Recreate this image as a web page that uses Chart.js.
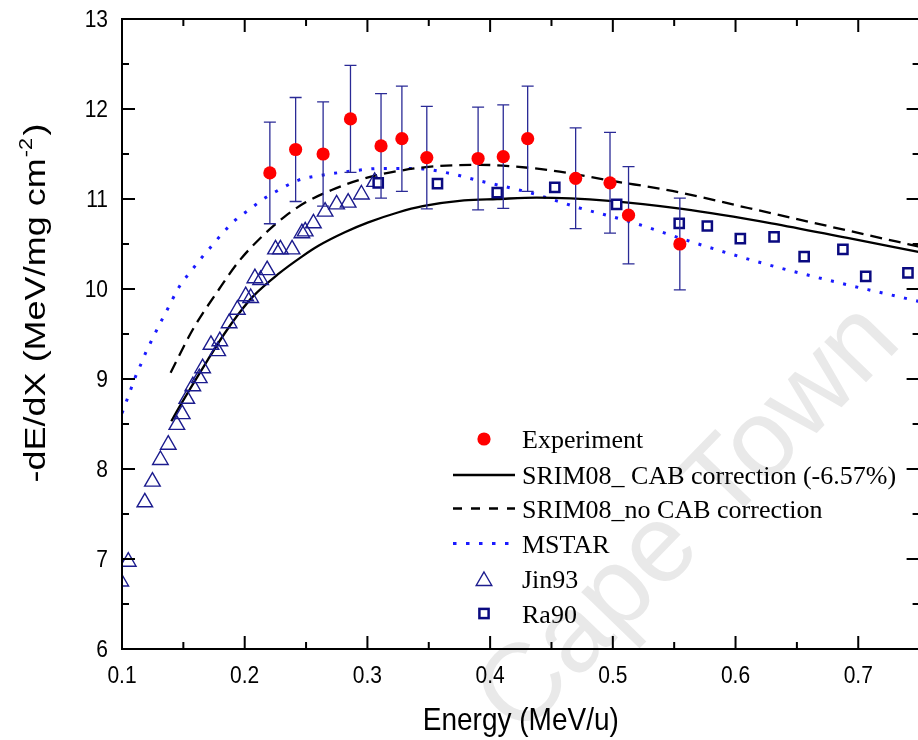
<!DOCTYPE html>
<html>
<head>
<meta charset="utf-8">
<script src="https://cdn.jsdelivr.net/npm/chart.js@4.4.1/dist/chart.umd.min.js"></script>
<style>
  html, body { margin: 0; padding: 0; background: #fff; overflow: hidden; width: 918px; height: 740px; }
  canvas { display: block; }
</style>
</head>
<body>
<canvas id="c" width="930" height="740"></canvas>
<script>
// Axis ticks
const xTicks = [0.1, 0.2, 0.3, 0.4, 0.5, 0.6, 0.7];
const yTicks = [6, 7, 8, 9, 10, 11, 12, 13];

// Experiment: energy (MeV/u), stopping power and its uncertainty
const energyExp = [0.2205, 0.2415, 0.2639, 0.2862, 0.3111, 0.3281, 0.3484, 0.3902, 0.4107, 0.4306, 0.4697, 0.4977, 0.5128, 0.5546];
const dedxExp   = [11.29, 11.55, 11.50, 11.89, 11.59, 11.67, 11.46, 11.45, 11.47, 11.67, 11.23, 11.18, 10.82, 10.50];
const errExp    = [0.565, 0.578, 0.58, 0.595, 0.58, 0.585, 0.57, 0.57, 0.575, 0.585, 0.56, 0.56, 0.54, 0.51];

// SRIM08 with CAB correction
const energyCab = [0.1402, 0.1455, 0.1698, 0.1833, 0.1954, 0.2062, 0.2277, 0.2466, 0.2601, 0.2816, 0.3007, 0.3248, 0.3450, 0.3787, 0.4058, 0.4379, 0.4972, 0.5565, 0.6293, 0.6912, 0.7500];
const dedxCab   = [8.53, 8.66, 9.21, 9.50, 9.73, 9.91, 10.17, 10.36, 10.48, 10.63, 10.74, 10.85, 10.92, 10.985, 11.00, 11.015, 10.98, 10.89, 10.73, 10.567, 10.41];

// SRIM08 without CAB correction
const energyNoCab = [0.1396, 0.1577, 0.1792, 0.1954, 0.2116, 0.2331, 0.2493, 0.2709, 0.2978, 0.3248, 0.3517, 0.3921, 0.4201, 0.4487, 0.4999, 0.5484, 0.6103, 0.6750, 0.7500];
const dedxNoCab   = [9.07, 9.55, 10.00, 10.31, 10.55, 10.81, 10.96, 11.10, 11.23, 11.31, 11.36, 11.38, 11.36, 11.32, 11.20, 11.09, 10.90, 10.70, 10.47];

// MSTAR
const energyMstar = [0.1000, 0.1065, 0.1105, 0.1159, 0.1199, 0.1253, 0.1307, 0.1361, 0.1469, 0.1563, 0.1644, 0.1738, 0.1833, 0.1927, 0.2035, 0.2142, 0.2251, 0.2439, 0.2655, 0.2870, 0.3113, 0.3382, 0.3652, 0.3920, 0.4323, 0.4729, 0.5134, 0.5673, 0.6212, 0.6750, 0.7500];
const dedxMstar   = [8.62, 8.86, 9.01, 9.18, 9.31, 9.46, 9.61, 9.75, 10.03, 10.20, 10.34, 10.49, 10.64, 10.77, 10.88, 10.99, 11.08, 11.21, 11.27, 11.31, 11.34, 11.34, 11.29, 11.20, 11.07, 10.90, 10.75, 10.51, 10.29, 10.10, 9.86];

// Jin93
const energyJin = [0.099, 0.1051, 0.1186, 0.1248, 0.1313, 0.1377, 0.1447, 0.1491, 0.1528, 0.1577, 0.1630, 0.1657, 0.1725, 0.1780, 0.1797, 0.1873, 0.1940, 0.2008, 0.2049, 0.2083, 0.2130, 0.2183, 0.2251, 0.2291, 0.2386, 0.2466, 0.2493, 0.2560, 0.2655, 0.2749, 0.2843, 0.2951, 0.3059];
const dedxJin   = [6.75, 6.97, 7.63, 7.86, 8.10, 8.27, 8.49, 8.61, 8.78, 8.92, 9.01, 9.12, 9.38, 9.31, 9.42, 9.62, 9.77, 9.92, 9.90, 10.12, 10.10, 10.21, 10.44, 10.44, 10.44, 10.62, 10.64, 10.73, 10.86, 10.94, 10.96, 11.05, 11.19];

// Ra90
const energyRa = [0.3088, 0.3571, 0.4058, 0.4527, 0.5031, 0.5541, 0.5770, 0.6039, 0.6314, 0.6559, 0.6875, 0.7061, 0.7405];
const dedxRa   = [11.18, 11.17, 11.07, 11.13, 10.94, 10.73, 10.70, 10.56, 10.58, 10.36, 10.44, 10.14, 10.18];

const legendLabels = ['Experiment', 'SRIM08_ CAB correction (-6.57%)', 'SRIM08_no CAB correction', 'MSTAR', 'Jin93', 'Ra90'];
const xTitle = 'Energy (MeV/u)';
const yTitle = ['-dE/dX (MeV/mg cm', '-2', ')'];

const pts = (xs, ys) => xs.map((x, i) => ({ x: x, y: ys[i] }));

const NAVY = '#1c1c8e';
const SANS = '"Liberation Sans", Arial, Helvetica, sans-serif';
const SERIF = '"Liberation Serif", "Times New Roman", serif';
const STRETCH = 1.13;   // tall, narrow axis lettering

// Faint diagonal watermark behind the plot
const watermark = {
  id: 'watermark',
  beforeDraw(chart) {
    const ctx = chart.ctx;
    ctx.save();
    ctx.translate(690, 520);
    ctx.rotate(-0.80);
    ctx.font = '110px ' + SANS;
    ctx.fillStyle = '#e9e9e9';
    ctx.textAlign = 'center';
    ctx.textBaseline = 'middle';
    ctx.fillText('Cape Town', 0, 0);
    ctx.restore();
  }
};

// Vertical uncertainty bars under the experimental points
const errorBars = {
  id: 'errorBars',
  beforeDatasetDraw(chart, args) {
    if (args.index !== 0) return;
    const { ctx, chartArea: ca } = chart;
    const xs = chart.scales.x, ys = chart.scales.y;
    ctx.save();
    ctx.beginPath();
    ctx.rect(ca.left, ca.top, ca.right - ca.left, ca.bottom - ca.top);
    ctx.clip();
    ctx.strokeStyle = '#2a2a96';
    ctx.lineWidth = 1.3;
    energyExp.forEach((e, i) => {
      const px = xs.getPixelForValue(e);
      const top = ys.getPixelForValue(dedxExp[i] + errExp[i]);
      const bot = ys.getPixelForValue(dedxExp[i] - errExp[i]);
      ctx.beginPath();
      ctx.moveTo(px, top); ctx.lineTo(px, bot);
      ctx.moveTo(px - 6, top); ctx.lineTo(px + 6, top);
      ctx.moveTo(px - 6, bot); ctx.lineTo(px + 6, bot);
      ctx.stroke();
    });
    ctx.restore();
  }
};

// Box frame with inward major/minor ticks on all four sides
const frame = {
  id: 'frame',
  afterDatasetsDraw(chart) {
    const { ctx, chartArea: ca } = chart;
    const xs = chart.scales.x, ys = chart.scales.y;
    const MAJ = 13, MIN = 7;
    ctx.save();
    ctx.strokeStyle = '#000';
    ctx.lineWidth = 2;
    ctx.strokeRect(ca.left, ca.top, ca.right - ca.left, ca.bottom - ca.top);
    ctx.beginPath();
    const xv = xs.ticks.map(t => t.value);
    const xStep = xv[1] - xv[0];
    const xTick = (v, len) => {
      const p = xs.getPixelForValue(v);
      ctx.moveTo(p, ca.bottom); ctx.lineTo(p, ca.bottom - len);
      ctx.moveTo(p, ca.top); ctx.lineTo(p, ca.top + len);
    };
    xv.forEach(v => xTick(v, MAJ));
    for (let v = xv[0] + xStep / 2; v <= xs.max + 1e-9; v += xStep) xTick(v, MIN);
    const yv = ys.ticks.map(t => t.value);
    const yStep = yv[1] - yv[0];
    const yTick = (v, len) => {
      const p = ys.getPixelForValue(v);
      ctx.moveTo(ca.left, p); ctx.lineTo(ca.left + len, p);
      ctx.moveTo(ca.right, p); ctx.lineTo(ca.right - len, p);
    };
    yv.forEach(v => yTick(v, MAJ));
    for (let v = yv[0] + yStep / 2; v < ys.max; v += yStep) yTick(v, MIN);
    ctx.stroke();
    ctx.restore();
  }
};

// Tick labels and axis titles (the y title carries a superscript)
const axisText = {
  id: 'axisText',
  afterDraw(chart) {
    const ctx = chart.ctx;
    const ca = chart.chartArea;
    const xs = chart.scales.x, ys = chart.scales.y;
    ctx.save();
    ctx.fillStyle = '#000';

    ctx.font = '21px ' + SANS;
    ctx.textAlign = 'center';
    ctx.textBaseline = 'alphabetic';
    xs.ticks.forEach(t => {
      ctx.save();
      ctx.translate(xs.getPixelForValue(t.value), 683);
      ctx.scale(1, STRETCH);
      ctx.fillText(t.value.toFixed(1), 0, 0);
      ctx.restore();
    });
    ctx.textAlign = 'right';
    ctx.textBaseline = 'middle';
    ys.ticks.forEach(t => {
      ctx.save();
      ctx.translate(108, ys.getPixelForValue(t.value) + 1);
      ctx.scale(1, STRETCH);
      ctx.fillText(String(t.value), 0, 0);
      ctx.restore();
    });

    ctx.textBaseline = 'alphabetic';
    ctx.textAlign = 'center';
    ctx.font = '28px ' + SANS;
    ctx.save();
    ctx.translate((ca.left + ca.right) / 2, 730);
    ctx.scale(1, STRETCH);
    ctx.fillText(xTitle, 0, 0);
    ctx.restore();

    const big = '30px ' + SANS, small = '18px ' + SANS;
    ctx.font = big; const w1 = ctx.measureText(yTitle[0]).width, w3 = ctx.measureText(yTitle[2]).width;
    ctx.font = small; const w2 = ctx.measureText(yTitle[1]).width;
    const total = w1 + w2 + w3 + 3;
    ctx.translate(45, 303);
    ctx.rotate(-Math.PI / 2);
    ctx.scale(1.2, 1);
    ctx.textAlign = 'left';
    const x0 = -total / 2;
    ctx.font = big; ctx.fillText(yTitle[0], x0, 0);
    ctx.font = small; ctx.fillText(yTitle[1], x0 + w1 + 1, -13);
    ctx.font = big; ctx.fillText(yTitle[2], x0 + w1 + w2 + 3, 0);
    ctx.restore();
  }
};

function drawMarker(ctx, style, x, y) {
  ctx.save();
  if (style === 'circle') {
    ctx.fillStyle = '#ff0000';
    ctx.beginPath(); ctx.arc(x, y, 6.6, 0, Math.PI * 2); ctx.fill();
  } else if (style === 'triangle') {
    const r = 9;
    ctx.strokeStyle = NAVY; ctx.lineWidth = 1.4;
    ctx.beginPath();
    ctx.moveTo(x, y - r);
    ctx.lineTo(x + r * Math.sin(2 * Math.PI / 3), y - r * Math.cos(2 * Math.PI / 3));
    ctx.lineTo(x + r * Math.sin(4 * Math.PI / 3), y - r * Math.cos(4 * Math.PI / 3));
    ctx.closePath(); ctx.stroke();
  } else if (style === 'rect') {
    ctx.fillStyle = '#fff'; ctx.strokeStyle = '#0a0a80'; ctx.lineWidth = 2.5;
    ctx.fillRect(x - 4.6, y - 4.6, 9.2, 9.2);
    ctx.strokeRect(x - 4.6, y - 4.6, 9.2, 9.2);
  }
  ctx.restore();
}

// Legend block inside the plot area
const legendBox = {
  id: 'legendBox',
  afterDraw(chart) {
    const ctx = chart.ctx;
    const order = [0, 3, 4, 5, 2, 1];
    const rowY = [439, 475, 508.5, 543.5, 579, 613.5];
    const symX = 484, lineX0 = 453, lineX1 = 515, textX = 522;
    ctx.save();
    order.forEach((di, row) => {
      const ds = chart.data.datasets[di];
      const y = rowY[row];
      if (ds.showLine) {
        ctx.save();
        ctx.strokeStyle = ds.borderColor;
        ctx.lineWidth = ds.borderWidth;
        ctx.setLineDash(ds.legendDash || []);
        ctx.beginPath(); ctx.moveTo(lineX0, y); ctx.lineTo(lineX1, y); ctx.stroke();
        ctx.restore();
      } else {
        drawMarker(ctx, ds.pointStyle, symX, ds.pointStyle === 'triangle' ? y + 2 : y);
      }
      ctx.fillStyle = '#000';
      ctx.font = '26px ' + SERIF;
      ctx.textAlign = 'left';
      ctx.textBaseline = 'alphabetic';
      ctx.fillText(ds.label, textX, y + 9);
    });
    ctx.restore();
  }
};

new Chart(document.getElementById('c'), {
  type: 'scatter',
  data: {
    datasets: [
      { label: legendLabels[0], data: pts(energyExp, dedxExp), pointStyle: 'circle', pointRadius: 6.6,
        backgroundColor: '#ff0000', borderColor: '#ff0000', borderWidth: 0 },
      { label: legendLabels[5], data: pts(energyRa, dedxRa), pointStyle: 'rect', pointRadius: 6.5,
        backgroundColor: '#ffffff', borderColor: '#0a0a80', borderWidth: 2.5 },
      { label: legendLabels[4], data: pts(energyJin, dedxJin), pointStyle: 'triangle', pointRadius: 9,
        backgroundColor: 'rgba(0,0,0,0)', borderColor: NAVY, borderWidth: 1.4 },
      { label: legendLabels[1], data: pts(energyCab, dedxCab), showLine: true, pointRadius: 0,
        borderColor: '#000', borderWidth: 2.3, cubicInterpolationMode: 'monotone' },
      { label: legendLabels[2], data: pts(energyNoCab, dedxNoCab), showLine: true, pointRadius: 0,
        borderColor: '#000', borderWidth: 2.3, borderDash: [12, 7], legendDash: [9, 9],
        cubicInterpolationMode: 'monotone' },
      { label: legendLabels[3], data: pts(energyMstar, dedxMstar), showLine: true, pointRadius: 0,
        borderColor: '#1a1aff', borderWidth: 3, borderDash: [3, 9.5], legendDash: [3.5, 9.5],
        cubicInterpolationMode: 'monotone' }
    ]
  },
  options: {
    responsive: false,
    animation: false,
    events: [],
    layout: { padding: { top: 19, right: 4, left: 0, bottom: 0 } },
    plugins: { legend: { display: false }, tooltip: { enabled: false } },
    scales: {
      x: {
        type: 'linear', min: 0.1, max: 0.75,
        afterBuildTicks: s => { s.ticks = xTicks.map(v => ({ value: v })); },
        afterFit: s => { s.height = 91; },
        grid: { display: false, drawTicks: false },
        border: { display: false },
        ticks: { display: false }
      },
      y: {
        type: 'linear', min: 6, max: 13,
        afterBuildTicks: s => { s.ticks = yTicks.map(v => ({ value: v })); },
        afterFit: s => { s.width = 122; },
        grid: { display: false, drawTicks: false },
        border: { display: false },
        ticks: { display: false }
      }
    }
  },
  plugins: [watermark, errorBars, frame, axisText, legendBox]
});
</script>
</body>
</html>
